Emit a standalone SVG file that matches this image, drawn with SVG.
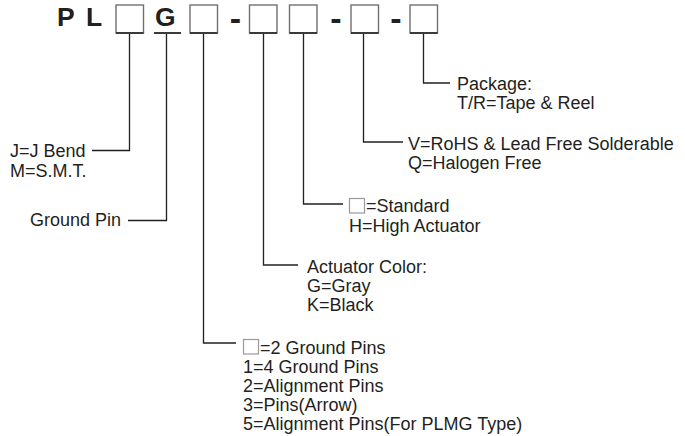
<svg xmlns="http://www.w3.org/2000/svg" width="685" height="436" viewBox="0 0 685 436">
<style>
.t{font-family:"Liberation Sans",Arial,sans-serif;font-size:18px;fill:#231f20}
.h{font-family:"Liberation Sans",Arial,sans-serif;font-size:26.5px;font-weight:bold;fill:#231f20}
.d{font-family:"Liberation Sans",Arial,sans-serif;font-size:34px;font-weight:bold;fill:#231f20}
.bx{fill:#fff;stroke:#707070;stroke-width:1.4}
.bb{stroke:#3a3a3a;stroke-width:2}
.sb{fill:#fff;stroke:#9a9a9a;stroke-width:1.2}
.c{fill:none;stroke:#231f20;stroke-width:1.3}
</style>
<rect width="685" height="436" fill="#fff"/>
<g id="code">
<text class="h" x="57" y="26">P</text>
<text class="h" x="86" y="26">L</text>
<text class="h" x="155" y="26">G</text>
<line x1="154" y1="33" x2="181" y2="33" class="bb"/>
<text class="d" x="235.5" y="30" text-anchor="middle">-</text>
<text class="d" x="336" y="30" text-anchor="middle">-</text>
<text class="d" x="396" y="30" text-anchor="middle">-</text>
</g>
<g id="box1"><rect class="bx" x="116" y="5" width="27.5" height="28"/><line class="bb" x1="116" y1="33" x2="143.5" y2="33"/></g>
<g id="box2"><rect class="bx" x="190" y="5" width="27.5" height="28"/><line class="bb" x1="190" y1="33" x2="217.5" y2="33"/></g>
<g id="box3"><rect class="bx" x="249.5" y="5" width="27.5" height="28"/><line class="bb" x1="249.5" y1="33" x2="277" y2="33"/></g>
<g id="box4"><rect class="bx" x="289.5" y="5" width="27.5" height="28"/><line class="bb" x1="289.5" y1="33" x2="317" y2="33"/></g>
<g id="box5"><rect class="bx" x="351" y="5" width="27.5" height="28"/><line class="bb" x1="351" y1="33" x2="378.5" y2="33"/></g>
<g id="box6"><rect class="bx" x="410" y="5" width="27.5" height="28"/><line class="bb" x1="410" y1="33" x2="437.5" y2="33"/></g>
<g id="connectors">
<path class="c" d="M129.5,34 V150.5 H92"/>
<path class="c" d="M166.5,34 V220.5 H128"/>
<path class="c" d="M203.5,34 V343 H236"/>
<path class="c" d="M263.5,34 V265 H298"/>
<path class="c" d="M303.5,34 V204 H343"/>
<path class="c" d="M363.5,34 V142 H403"/>
<path class="c" d="M423.5,34 V83 H450"/>
</g>
<g id="package">
<text class="t" x="457" y="90">Package:</text>
<text class="t" x="457" y="109">T/R=Tape &amp; Reel</text>
</g>
<g id="rohs">
<text class="t" x="408" y="150">V=RoHS &amp; Lead Free Solderable</text>
<text class="t" x="408" y="169">Q=Halogen Free</text>
</g>
<g id="actuator-height">
<rect class="sb" x="349.5" y="198.5" width="15" height="14.5"/>
<text class="t" x="366" y="212">=Standard</text>
<text class="t" x="349" y="232">H=High Actuator</text>
</g>
<g id="actuator-color">
<text class="t" x="307" y="273">Actuator Color:</text>
<text class="t" x="307" y="292">G=Gray</text>
<text class="t" x="307" y="311">K=Black</text>
</g>
<g id="bend">
<text class="t" x="10" y="157">J=J Bend</text>
<text class="t" x="10" y="177">M=S.M.T.</text>
</g>
<g id="ground">
<text class="t" x="30" y="226">Ground Pin</text>
</g>
<g id="pins">
<rect class="sb" x="243.5" y="339.5" width="15" height="14.5"/>
<text class="t" x="260" y="354">=2 Ground Pins</text>
<text class="t" x="243" y="373">1=4 Ground Pins</text>
<text class="t" x="243" y="392">2=Alignment Pins</text>
<text class="t" x="243" y="411">3=Pins(Arrow)</text>
<text class="t" x="243" y="430">5=Alignment Pins(For PLMG Type)</text>
</g>
</svg>
